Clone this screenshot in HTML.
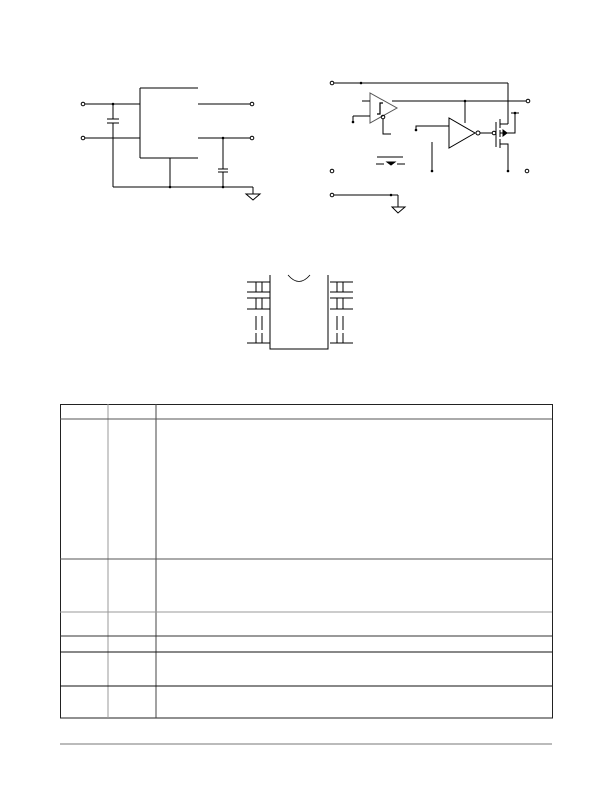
<!DOCTYPE html>
<html><head><style>html,body{margin:0;padding:0;background:#fff;}svg{display:block}</style></head><body>
<svg width="611" height="791" viewBox="0 0 611 791" xmlns="http://www.w3.org/2000/svg">
<g stroke="#000" stroke-width="1" fill="none">
<!-- Left circuit -->
<circle cx="83" cy="104" r="1.8"/><circle cx="83" cy="138" r="1.8"/>
<line x1="85" y1="104" x2="140" y2="104"/><line x1="85" y1="138" x2="140" y2="138"/>
<line x1="140" y1="88" x2="140" y2="158"/><line x1="140" y1="88" x2="198" y2="88"/><line x1="140" y1="158" x2="198" y2="158"/>
<line x1="198" y1="104" x2="250" y2="104"/><circle cx="252" cy="104" r="1.8"/>
<line x1="198" y1="138" x2="250" y2="138"/><circle cx="252" cy="138" r="1.8"/>
<line x1="113" y1="104" x2="113" y2="119"/><line x1="107" y1="119" x2="119" y2="119"/><line x1="107" y1="123" x2="119" y2="123"/><line x1="113" y1="123" x2="113" y2="187"/>
<line x1="113" y1="187" x2="253" y2="187"/>
<line x1="170" y1="158" x2="170" y2="187"/>
<line x1="223" y1="138" x2="223" y2="169"/><line x1="218" y1="169" x2="228" y2="169"/><line x1="218" y1="172" x2="228" y2="172"/><line x1="223" y1="172" x2="223" y2="187"/>
<line x1="253" y1="187" x2="253" y2="194"/><polygon points="246,194 260,194 253,200"/>
<!-- Right circuit -->
<circle cx="332" cy="83" r="1.8"/><line x1="334" y1="83" x2="508" y2="83"/><line x1="508" y1="83" x2="508" y2="124"/>
<polygon points="370,93 370,123 397,108" stroke="#555"/>
<path d="M377 114 h3 v-11 h3" stroke-width="1.2"/>
<line x1="362" y1="101" x2="370" y2="101"/>
<line x1="392" y1="101" x2="526" y2="101"/><circle cx="528" cy="101" r="1.8"/>
<line x1="353" y1="116" x2="370" y2="116"/><line x1="353" y1="116" x2="353" y2="122"/>
<circle cx="383" cy="117" r="1.8"/><path d="M383 119 V134 H391"/>
<line x1="465" y1="101" x2="465" y2="123"/>
<polygon points="449,118 449,148 475,133"/><circle cx="478" cy="133" r="2"/>
<path d="M416 130 V126 H449"/>
<line x1="480" y1="133" x2="492" y2="133"/><circle cx="494" cy="133" r="1.8"/>
<line x1="496" y1="122" x2="496" y2="147"/>
<line x1="500" y1="119" x2="500" y2="128"/><line x1="500" y1="130" x2="500" y2="137"/><line x1="500" y1="139" x2="500" y2="148"/>
<line x1="500" y1="124" x2="508" y2="124"/>
<path d="M500 144 H508 V171"/>
<path d="M500 133 H515 V113"/><line x1="511" y1="113" x2="519" y2="113"/>
<polygon points="503,130 503,136 507,133" fill="#000"/>
<line x1="432" y1="142" x2="432" y2="171"/>
<line x1="377" y1="157" x2="403" y2="157"/><line x1="376" y1="164" x2="384" y2="164"/><line x1="397" y1="164" x2="405" y2="164"/>
<polygon points="387,162 395,162 391,165" fill="#000"/>
<circle cx="332" cy="171" r="1.8"/><circle cx="527" cy="171" r="1.8"/>
<circle cx="332" cy="195" r="1.8"/><line x1="334" y1="195" x2="398" y2="195"/><line x1="398" y1="195" x2="398" y2="207"/><polygon points="392,207 405,207 398,213"/>
<!-- IC -->
<path d="M270 275 V349 H328 V275"/><path d="M288 275 Q299 288 310 275" stroke-width="0.8"/>
<g>
<line x1="247" y1="282" x2="270" y2="282"/><line x1="247" y1="292" x2="270" y2="292"/><line x1="247" y1="298" x2="270" y2="298"/><line x1="247" y1="309" x2="270" y2="309"/><line x1="247" y1="343" x2="270" y2="343"/>
<line x1="256" y1="282" x2="256" y2="292"/><line x1="262" y1="282" x2="262" y2="292"/>
<line x1="256" y1="298" x2="256" y2="309"/><line x1="262" y1="298" x2="262" y2="309"/>
<line x1="256" y1="316" x2="256" y2="330"/><line x1="262" y1="316" x2="262" y2="330"/>
<line x1="256" y1="333" x2="256" y2="343"/><line x1="262" y1="333" x2="262" y2="343"/>
<line x1="330" y1="282" x2="353" y2="282"/><line x1="330" y1="292" x2="353" y2="292"/><line x1="330" y1="298" x2="353" y2="298"/><line x1="330" y1="309" x2="353" y2="309"/><line x1="330" y1="343" x2="353" y2="343"/>
<line x1="337" y1="282" x2="337" y2="292"/><line x1="343" y1="282" x2="343" y2="292"/>
<line x1="337" y1="298" x2="337" y2="309"/><line x1="343" y1="298" x2="343" y2="309"/>
<line x1="337" y1="316" x2="337" y2="330"/><line x1="343" y1="316" x2="343" y2="330"/>
<line x1="337" y1="333" x2="337" y2="343"/><line x1="343" y1="333" x2="343" y2="343"/>
</g>
</g>
<!-- dots -->
<g fill="#000">
<circle cx="113" cy="104" r="1.3"/><circle cx="170" cy="187" r="1.3"/><circle cx="223" cy="187" r="1.3"/><circle cx="223" cy="138" r="1.3"/>
<circle cx="361" cy="83" r="1.3"/><circle cx="465" cy="101" r="1.3"/><circle cx="353" cy="122" r="1.3"/><circle cx="416" cy="130" r="1.3"/>
<circle cx="515" cy="113" r="1.3"/><circle cx="508" cy="171" r="1.3"/><circle cx="432" cy="171" r="1.3"/><circle cx="391" cy="195" r="1.3"/>
</g>
<!-- Table -->
<g stroke-width="1">
<rect x="60.5" y="404.5" width="492" height="313.5" fill="none" stroke="#222"/>
<line x1="108" y1="404" x2="108" y2="718" stroke="#999"/>
<line x1="156" y1="404" x2="156" y2="718" stroke="#444"/>
<line x1="60" y1="419" x2="552" y2="419" stroke="#555"/>
<line x1="60" y1="559" x2="552" y2="559" stroke="#555"/>
<line x1="60" y1="612" x2="552" y2="612" stroke="#999"/>
<line x1="60" y1="636" x2="552" y2="636" stroke="#333"/>
<line x1="60" y1="652" x2="552" y2="652" stroke="#111"/>
<line x1="60" y1="686" x2="552" y2="686" stroke="#111"/>
</g>
<line x1="60" y1="744" x2="552" y2="744" stroke="#bbb" stroke-width="2"/>
</svg>
</body></html>
